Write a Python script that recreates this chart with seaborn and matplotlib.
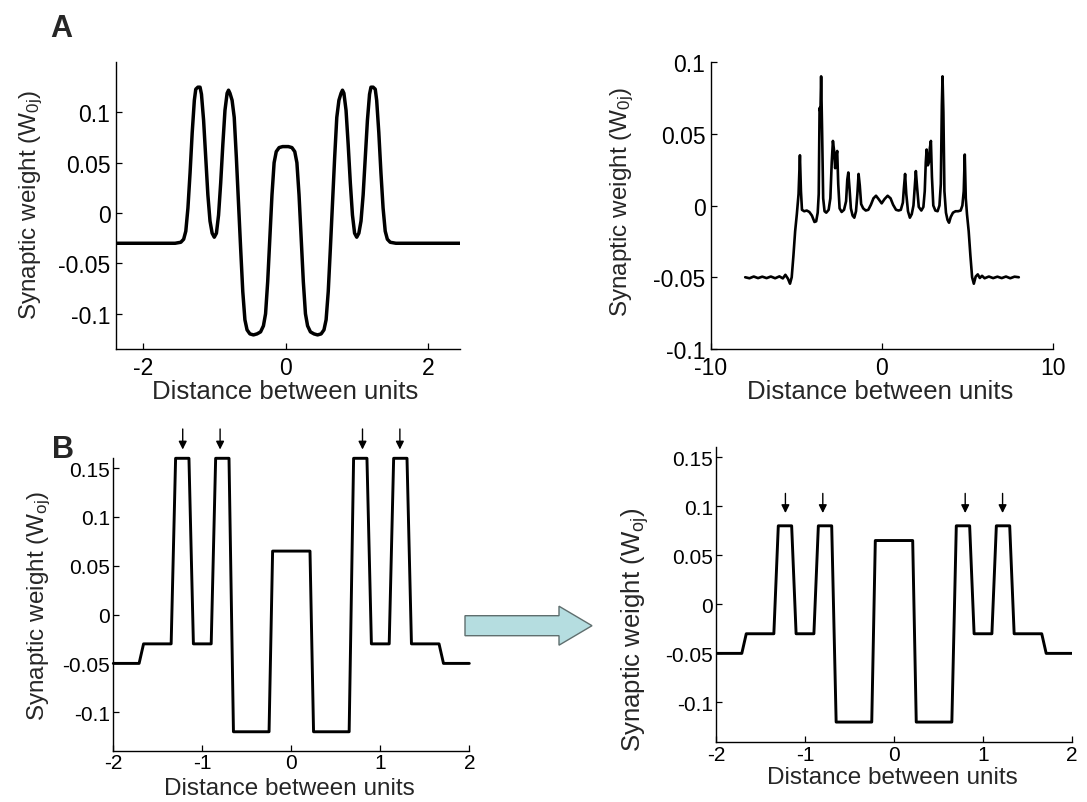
import matplotlib
matplotlib.use("Agg")
import matplotlib.pyplot as plt
import seaborn as sns
from matplotlib.patches import FancyArrow

# ---------------- data ----------------
# Panel A (left): smooth connectivity profile
a1_x = [-2.38, -1.90, -1.55, -1.47, -1.43, -1.40, -1.37, -1.34, -1.31, -1.28,
        -1.26, -1.23, -1.20, -1.18, -1.15, -1.12, -1.09, -1.06, -1.03, -1.00,
        -0.97, -0.94, -0.91, -0.88, -0.85, -0.82, -0.80, -0.78, -0.75, -0.72,
        -0.69, -0.66, -0.63, -0.60, -0.57, -0.54, -0.50, -0.45, -0.40, -0.35,
        -0.31, -0.28, -0.25, -0.22, -0.19, -0.16, -0.13, -0.09, -0.04, 0.00,
        0.04, 0.09, 0.13, 0.16, 0.19, 0.22, 0.25, 0.28, 0.31, 0.35,
        0.40, 0.45, 0.50, 0.54, 0.57, 0.60, 0.63, 0.66, 0.69, 0.72,
        0.75, 0.78, 0.80, 0.82, 0.85, 0.88, 0.91, 0.94, 0.97, 1.00,
        1.03, 1.06, 1.09, 1.12, 1.15, 1.18, 1.20, 1.23, 1.26, 1.28,
        1.31, 1.34, 1.37, 1.40, 1.43, 1.47, 1.55, 1.90, 2.45]
a1_y = [-0.030, -0.030, -0.030, -0.029, -0.026, -0.018, 0.005, 0.040, 0.080, 0.112,
        0.123, 0.125, 0.125, 0.118, 0.092, 0.055, 0.018, -0.008, -0.020, -0.024,
        -0.020, -0.002, 0.030, 0.068, 0.102, 0.119, 0.122, 0.119, 0.112, 0.095,
        0.055, 0.010, -0.035, -0.078, -0.106, -0.116, -0.120, -0.121, -0.120, -0.118,
        -0.112, -0.100, -0.068, -0.025, 0.018, 0.050, 0.061, 0.065, 0.066, 0.066,
        0.066, 0.065, 0.061, 0.050, 0.018, -0.025, -0.068, -0.100, -0.112, -0.118,
        -0.120, -0.121, -0.120, -0.116, -0.106, -0.078, -0.035, 0.010, 0.055, 0.095,
        0.112, 0.119, 0.122, 0.119, 0.102, 0.068, 0.030, -0.002, -0.020, -0.024,
        -0.020, -0.008, 0.018, 0.055, 0.092, 0.118, 0.125, 0.125, 0.123, 0.112,
        0.080, 0.040, 0.005, -0.018, -0.026, -0.029, -0.030, -0.030, -0.030]

# Panel A (right): learned weights over a wider range
a2_x = [-8.0, -7.75, -7.5, -7.25, -7.0, -6.75, -6.5, -6.25, -6.0, -5.8,
        -5.65, -5.5, -5.38, -5.28, -5.18, -5.08, -4.98, -4.88, -4.80, -4.74,
        -4.68, -4.55, -4.40, -4.25, -4.10, -3.95, -3.85, -3.76, -3.70, -3.65,
        -3.60, -3.56, -3.50, -3.44, -3.36, -3.26, -3.12, -3.02, -2.94, -2.87,
        -2.80, -2.74, -2.68, -2.62, -2.56, -2.48, -2.36, -2.22, -2.10, -2.03,
        -1.97, -1.90, -1.82, -1.72, -1.62, -1.52, -1.44, -1.37, -1.30, -1.22,
        -1.10, -0.95, -0.80, -0.65, -0.50, -0.35, -0.20, -0.02, 0.15, 0.33,
        0.50, 0.65, 0.82, 0.97, 1.10, 1.22, 1.28, 1.35, 1.42, 1.52,
        1.63, 1.74, 1.84, 1.91, 1.98, 2.05, 2.15, 2.30, 2.42, 2.50,
        2.56, 2.61, 2.68, 2.74, 2.80, 2.86, 2.92, 3.00, 3.12, 3.25,
        3.36, 3.44, 3.50, 3.54, 3.59, 3.65, 3.74, 3.83, 3.92, 4.02,
        4.15, 4.30, 4.45, 4.60, 4.70, 4.78, 4.84, 4.90, 4.97, 5.07,
        5.17, 5.27, 5.37, 5.48, 5.60, 5.72, 5.85, 6.0, 6.25, 6.5,
        6.75, 7.0, 7.25, 7.5, 7.75, 8.0]
a2_y = [-0.0500, -0.0507, -0.0495, -0.0506, -0.0496, -0.0506, -0.0495, -0.0507, -0.0494, -0.0508,
        -0.0483, -0.0510, -0.0545, -0.0500, -0.0350, -0.0180, -0.0060, 0.0080, 0.0350, 0.0100,
        -0.0030, -0.0040, -0.0035, -0.0045, -0.0070, -0.0115, -0.0110, -0.0050, 0.0080, 0.0680,
        0.0650, 0.0900, 0.0500, 0.0050, -0.0040, -0.0050, -0.0030, 0.0050, 0.0300, 0.0450,
        0.0380, 0.0260, 0.0340, 0.0380, 0.0150, -0.0020, -0.0045, -0.0030, 0.0030, 0.0180,
        0.0230, 0.0120, -0.0020, -0.0070, -0.0085, -0.0040, 0.0080, 0.0220, 0.0140, 0.0010,
        -0.0020, -0.0035, -0.0030, 0.0005, 0.0050, 0.0068, 0.0045, 0.0015, 0.0045, 0.0068,
        0.0050, 0.0005, -0.0030, -0.0035, -0.0030, 0.0020, 0.0120, 0.0220, 0.0080, -0.0040,
        -0.0085, -0.0060, 0.0000, 0.0120, 0.0240, 0.0130, -0.0010, -0.0035, -0.0010, 0.0100,
        0.0300, 0.0390, 0.0280, 0.0300, 0.0400, 0.0450, 0.0200, 0.0000, -0.0035, -0.0040,
        0.0000, 0.0150, 0.0700, 0.0900, 0.0650, 0.0100, -0.0050, -0.0100, -0.0120, -0.0080,
        -0.0050, -0.0040, -0.0040, -0.0035, 0.0000, 0.0100, 0.0355, 0.0050, -0.0060, -0.0180,
        -0.0350, -0.0500, -0.0545, -0.0495, -0.0480, -0.0505, -0.0490, -0.0507, -0.0495, -0.0506,
        -0.0496, -0.0506, -0.0495, -0.0507, -0.0496, -0.0500]

# Panel B: piecewise-linear profiles (before / after)
b_x = [-2.0, -1.71, -1.66, -1.35, -1.30, -1.15, -1.10, -0.90, -0.85, -0.70,
       -0.65, -0.25, -0.21, 0.21, 0.25, 0.65, 0.70, 0.85, 0.90, 1.10,
       1.15, 1.30, 1.35, 1.66, 1.71, 2.0]
b1_y = [-0.05, -0.05, -0.03, -0.03, 0.16, 0.16, -0.03, -0.03, 0.16, 0.16,
        -0.12, -0.12, 0.065, 0.065, -0.12, -0.12, 0.16, 0.16, -0.03, -0.03,
        0.16, 0.16, -0.03, -0.03, -0.05, -0.05]
b2_y = [-0.05, -0.05, -0.03, -0.03, 0.08, 0.08, -0.03, -0.03, 0.08, 0.08,
        -0.12, -0.12, 0.065, 0.065, -0.12, -0.12, 0.08, 0.08, -0.03, -0.03,
        0.08, 0.08, -0.03, -0.03, -0.05, -0.05]
arrow_x = [-1.22, -0.80, 0.80, 1.22]
b1_arrow_y = (0.19, 0.169)
b2_arrow_y = (0.113, 0.093)

a_yticks = [-0.1, -0.05, 0, 0.05, 0.1]
a_ylabels = ["-0.1", "-0.05", "0", "0.05", "0.1"]
a1_xticks = [-2, 0, 2]
a2_xticks = [-10, 0, 10]
b_xticks = [-2, -1, 0, 1, 2]
b_yticks = [-0.1, -0.05, 0, 0.05, 0.1, 0.15]
b_ylabels = ["-0.1", "-0.05", "0", "0.05", "0.1", "0.15"]

xlabel = "Distance between units"
ylabel_a = "Synaptic weight (W$\\mathregular{_{0j}}$)"
ylabel_b = "Synaptic weight (W$\\mathregular{_{oj}}$)"

# ---------------- style ----------------
sns.set_style("ticks")
plt.rcParams["font.family"] = ["Liberation Sans", "DejaVu Sans"]
plt.rcParams["axes.unicode_minus"] = False
plt.rcParams["mathtext.fontset"] = "custom"
plt.rcParams["mathtext.rm"] = "Liberation Sans"
plt.rcParams["xtick.direction"] = "in"
plt.rcParams["ytick.direction"] = "in"

W, H = 1087, 803
fig = plt.figure(figsize=(W / 100, H / 100), dpi=100)


def px_axes(l, r, t, b):
    return fig.add_axes([l / W, 1 - b / H, (r - l) / W, (b - t) / H])


def style(ax, xlim, ylim, xt, xtl, yt, ytl, tfs, xfs, yfs, xpad, ypad,
          xlab_pos, ylab_pos, ylab):
    ax.set_xlim(*xlim)
    ax.set_ylim(*ylim)
    ax.set_xticks(xt)
    ax.set_xticklabels(xtl)
    ax.set_yticks(yt)
    ax.set_yticklabels(ytl)
    for s in ("top", "right"):
        ax.spines[s].set_visible(False)
    for s in ("left", "bottom"):
        ax.spines[s].set_color("black")
        ax.spines[s].set_linewidth(1.0)
    ax.tick_params(axis="x", labelsize=tfs, length=4, width=0.9, pad=xpad,
                   colors="black")
    ax.tick_params(axis="y", labelsize=tfs, length=4, width=0.9, pad=ypad,
                   colors="black")
    ax.set_xlabel(xlabel, fontsize=xfs)
    ax.set_ylabel(ylab, fontsize=yfs)
    ax.xaxis.set_label_coords(*xlab_pos)
    ax.yaxis.set_label_coords(*ylab_pos)


# A left
ax1 = px_axes(116, 460, 63, 350)
sns.lineplot(x=a1_x, y=a1_y, ax=ax1, color="black", linewidth=2.5,
             estimator=None, sort=False)
style(ax1, (-2.38, 2.45), (-0.135, 0.15), a1_xticks, [str(v) for v in a1_xticks],
      a_yticks, a_ylabels, 16.5, 18.5, 17.5, 5, 4,
      (0.491, -0.105), (-0.205, 0.505), ylabel_a)

# A right
ax2 = px_axes(711, 1053, 63, 350)
sns.lineplot(x=a2_x, y=a2_y, ax=ax2, color="black", linewidth=1.9,
             estimator=None, sort=False)
style(ax2, (-10, 10), (-0.1, 0.1), a2_xticks, [str(v) for v in a2_xticks],
      a_yticks, a_ylabels, 16.5, 18.5, 17.5, 5, 4,
      (0.494, -0.105), (-0.22, 0.515), ylabel_a)

# B left
ax3 = px_axes(113.3, 469.3, 459.3, 752.3)
sns.lineplot(x=b_x, y=b1_y, ax=ax3, color="black", linewidth=2.1,
             estimator=None, sort=False)
for ln in ax3.lines:
    ln.set_clip_on(False)
style(ax3, (-2, 2), (-0.14, 0.16), b_xticks, [str(v) for v in b_xticks],
      b_yticks, b_ylabels, 15, 17.5, 17.5, 1.5, 2.5,
      (0.494, -0.088), (-0.17, 0.499), ylabel_b)
for xv in arrow_x:
    ax3.annotate("", xy=(xv, b1_arrow_y[1]), xytext=(xv, b1_arrow_y[0]),
                 arrowprops=dict(arrowstyle="-|>", color="black", lw=1.0,
                                 mutation_scale=12, shrinkA=0, shrinkB=0),
                 annotation_clip=False)

# B right
ax4 = px_axes(716, 1072, 448.3, 742.7)
sns.lineplot(x=b_x, y=b2_y, ax=ax4, color="black", linewidth=2.1,
             estimator=None, sort=False)
style(ax4, (-2, 2), (-0.14, 0.16), b_xticks, [str(v) for v in b_xticks],
      b_yticks, b_ylabels, 15, 17.5, 18.5, 2.5, 2,
      (0.496, -0.083), (-0.182, 0.385), ylabel_b)
for xv in arrow_x:
    ax4.annotate("", xy=(xv, b2_arrow_y[1]), xytext=(xv, b2_arrow_y[0]),
                 arrowprops=dict(arrowstyle="-|>", color="black", lw=1.0,
                                 mutation_scale=12, shrinkA=0, shrinkB=0),
                 annotation_clip=False)

# big transition arrow between B panels
fig.patches.append(FancyArrow(465 / W, 1 - 626.7 / H, (592 - 465) / W, 0,
                              width=20 / H, head_width=39 / H,
                              head_length=33 / W, length_includes_head=True,
                              facecolor="#b5dde0", edgecolor="#5f6e6e",
                              linewidth=1.0, transform=fig.transFigure,
                              figure=fig))

# panel letters
fig.text(50 / W, 1 - 37 / H, "A", fontsize=22, fontweight="bold", va="baseline")
fig.text(52 / W, 1 - 458 / H, "B", fontsize=22, fontweight="bold", va="baseline")

fig.savefig("out.png", dpi=100)
